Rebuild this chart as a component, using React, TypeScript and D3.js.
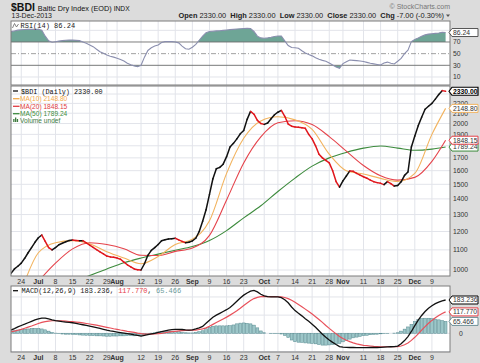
"use client"

import * as React from "react"
import * as d3 from "d3"

const W = 480
const H = 363

// trading days: index 0 = 19-Jun-2013 ... 127 = 13-Dec-2013
const closes = [
  984, 1005, 1018, 1033, 1057, 1085, 1112, 1140, 1165, 1180,
  1145, 1112, 1100, 1112, 1127, 1135, 1143, 1150, 1152, 1150,
  1149, 1149, 1137, 1125, 1113, 1101, 1090, 1079, 1068, 1064,
  1062, 1058, 1052, 1038, 1025, 1015, 1005, 1001, 1000, 1030,
  1072, 1097, 1112, 1128, 1148, 1154, 1158, 1160, 1162, 1153,
  1145, 1138, 1140, 1148, 1162, 1200, 1260, 1330, 1430, 1540,
  1615, 1625, 1650, 1710, 1790, 1821, 1860, 1905, 1935, 2040,
  2118, 2090, 2030, 2000, 1992, 2005, 2045, 2085, 2110, 2128,
  2070, 1995, 1975, 1968, 1965, 1960, 1955, 1900, 1860, 1800,
  1730, 1700, 1680, 1660, 1600, 1520, 1480, 1525, 1560, 1598,
  1595, 1580, 1567, 1555, 1544, 1530, 1519, 1512, 1507, 1498,
  1519, 1505, 1488, 1492, 1518, 1565, 1590, 1790, 1885, 1980,
  2060, 2140, 2170, 2200, 2245, 2295, 2337, 2330,
]

const rsi = [
  87.7, 89, 90.3, 91, 91.3, 91.6, 91.7, 91.7, 91.7, 90,
  80, 72, 69.5, 70.5, 71.5, 72.3, 73, 73.4, 73.2, 72.8,
  72.3, 70, 67.7, 65, 62, 57.5, 53.4, 50.5, 47.5, 45.5,
  44, 42, 40, 37.5, 33.5, 30.8, 29, 27.7, 30, 44,
  55.5, 60, 63, 65, 69, 70.6, 70.6, 70.6, 70, 68.5,
  63, 58.5, 57.5, 61, 66, 73, 80, 86, 88, 88.5,
  89, 89.4, 90, 90.6, 91.2, 91.7, 92.2, 92.7, 93.2, 93.4,
  93.2, 88, 80, 77, 76.5, 77, 78, 79.5, 80.3, 80.2,
  72, 64, 60.5, 60, 59.3, 55, 51, 48.5, 46.2, 43,
  40.3, 38.5, 37, 34, 30.6, 27, 25, 33, 36, 39,
  38.5, 38, 37.5, 36.5, 35, 33.4, 32.5, 31.5, 30.6, 34,
  35.5, 33.4, 32.3, 37, 42, 50, 56, 70.6, 74.5, 77,
  80, 82.2, 83.5, 84.2, 84.8, 85.5, 86.5, 86.24,
]

const macd = [
  18, 26, 35, 43, 50, 58, 66, 74, 80, 84,
  83, 79, 74, 70, 67, 64, 62, 60, 58, 55,
  51, 47, 43, 39, 35, 31, 27, 22, 17, 13,
  10, 7, 4, 1, -2, -5, -9, -12, -15, -12,
  -7, -3, 0, 5, 9, 13, 17, 20, 22, 22,
  21, 19, 18, 19, 24, 30, 38, 55, 72, 88,
  100, 110, 120, 130, 142, 158, 176, 194, 210, 222,
  232, 236, 228, 215, 206, 202, 200, 200, 200, 196,
  185, 168, 145, 125, 110, 96, 80, 66, 50, 33,
  14, -5, -22, -37, -50, -62, -73, -76, -77, -78,
  -78, -79, -79, -79, -79, -78, -78, -78, -77, -76,
  -75, -74, -73, -70, -58, -40, -18, 10, 42, 72,
  98, 120, 138, 152, 163, 172, 179, 183.236,
]

const signal = [
  9, 12, 17, 22, 28, 34, 40, 47, 54, 60,
  64, 67, 69, 69, 69, 68, 67, 65, 64, 62,
  60, 57, 54, 51, 48, 45, 41, 37, 33, 29,
  25, 22, 18, 15, 11, 8, 5, 1, -2, -4,
  -5, -4, -3, -2, 0, 3, 6, 9, 11, 13,
  15, 16, 16, 17, 18, 21, 24, 30, 39, 49,
  59, 69, 79, 89, 100, 112, 124, 138, 153, 167,
  180, 191, 198, 202, 203, 202, 202, 202, 201, 200,
  197, 191, 182, 171, 159, 146, 133, 120, 106, 91,
  76, 60, 43, 27, 12, -3, -17, -29, -38, -46,
  -53, -58, -62, -66, -68, -70, -72, -73, -74, -74,
  -74, -74, -74, -73, -70, -63, -53, -39, -22, -3,
  17, 37, 55, 71, 85, 98, 109, 117.77,
]

const histogram = [
  9, 14, 18, 21, 22, 24, 26, 27, 26, 24,
  19, 12, 5, 1, -2, -4, -5, -5, -6, -7,
  -9, -10, -11, -12, -13, -14, -14, -15, -16, -16,
  -15, -15, -14, -14, -13, -13, -14, -13, -13, -8,
  -2, 1, 3, 7, 9, 10, 11, 11, 11, 9,
  6, 3, 2, 2, 6, 9, 14, 25, 33, 39,
  41, 41, 41, 41, 42, 46, 52, 56, 57, 55,
  52, 45, 30, 13, 3, 0, -2, -2, -1, -4,
  -12, -23, -37, -46, -49, -50, -53, -54, -56, -58,
  -62, -65, -65, -64, -62, -59, -56, -47, -39, -32,
  -25, -21, -17, -13, -11, -8, -6, -5, -3, -2,
  -1, 0, 1, 3, 12, 23, 35, 49, 64, 75,
  81, 83, 83, 81, 78, 74, 70, 65.466,
]

// moving averages read at the Monday grid days
const maDays = [3, 8, 13, 18, 23, 28, 33, 38, 43, 48, 53, 58, 63, 68, 73, 78, 83, 88, 93, 98, 103, 108, 113, 118, 123, 127]
const ma10 = [905, 1085, 1138, 1149, 1132, 1090, 1058, 1030, 1066, 1128, 1157, 1262, 1580, 1865, 2025, 2065, 2035, 1945, 1730, 1600, 1575, 1543, 1520, 1580, 1900, 2148.8]
const ma20 = [null, 948, 1033, 1105, 1138, 1128, 1106, 1072, 1071, 1092, 1110, 1178, 1393, 1660, 1878, 2008, 2027, 1990, 1880, 1755, 1640, 1562, 1530, 1550, 1672, 1848.15]
const ma50 = [null, null, null, 945, 974, 1005, 1035, 1058, 1078, 1098, 1118, 1150, 1205, 1280, 1355, 1450, 1545, 1635, 1700, 1745, 1780, 1798, 1780, 1762, 1772, 1789.24]

const tickDays = [3, 8, 13, 18, 23, 28, 31, 38, 43, 48, 53, 58, 63, 68, 74, 78, 83, 88, 93, 97, 103, 108, 113, 118, 123]
const tickLabels = ["24", "Jul", "8", "15", "22", "29", "Aug", "12", "19", "26", "Sep", "9", "16", "23", "Oct", "7", "14", "21", "28", "Nov", "11", "18", "25", "Dec", "9"]
const monthLabels = ["Jul", "Aug", "Sep", "Oct", "Nov", "Dec"]

const priceTicks = [1000, 1100, 1200, 1300, 1400, 1500, 1600, 1700, 1800, 1900, 2000, 2100, 2200, 2300]
// 1800 and 2300 sit behind the last-value tags
const priceTickLabels = [1000, 1100, 1200, 1300, 1400, 1500, 1600, 1700, 1900, 2000, 2100, 2200]
const rsiTicks = [70, 50, 30, 10]

const sans = "'Liberation Sans', Arial, sans-serif"
const mono = "'Liberation Mono', 'DejaVu Sans Mono', monospace"

function render(svgEl: SVGSVGElement) {
  const svg = d3.select(svgEl)
  svg.selectAll("*").remove()

  const left = 11
  const right = 450
  const rsiBox = { top: 21, bottom: 85 }
  const priceBox = { top: 86, bottom: 276 }
  const macdBox = { top: 286, bottom: 352 }

  const x = d3.scaleLinear().domain([0, 127]).range([11, 445.6])
  const yRsi = d3.scaleLinear().domain([0, 100]).range([82.8, 24.5])
  const yPrice = d3.scaleLog().domain([1000, 2300]).range([270, 94])
  const yMacd = d3.scaleLinear().domain([0, 183.236]).range([333.3, 300])

  svg.append("rect").attr("width", W).attr("height", H).attr("fill", "#dcdcdc")

  const defs = svg.append("defs")
  const clip = (id: string, top: number, bottom: number) =>
    defs
      .append("clipPath")
      .attr("id", id)
      .append("rect")
      .attr("x", left)
      .attr("y", top)
      .attr("width", right - left)
      .attr("height", bottom - top)
  clip("rsiClip", rsiBox.top, rsiBox.bottom)
  clip("priceClip", priceBox.top, priceBox.bottom)
  clip("macdClip", macdBox.top, macdBox.bottom)
  clip("rsiHigh", rsiBox.top, yRsi(70))
  clip("rsiLow", yRsi(30), rsiBox.bottom)

  const boxes = [rsiBox, priceBox, macdBox]
  boxes.forEach((b) => {
    svg
      .append("rect")
      .attr("x", left)
      .attr("y", b.top)
      .attr("width", right - left)
      .attr("height", b.bottom - b.top)
      .attr("fill", "#ffffff")
    svg
      .append("g")
      .selectAll("line")
      .data(tickDays)
      .join("line")
      .attr("x1", (d) => x(d))
      .attr("x2", (d) => x(d))
      .attr("y1", b.top)
      .attr("y2", b.bottom)
      .attr("stroke", "#e2e4ea")
      .attr("stroke-width", 1)
  })

  // ---------- RSI panel ----------
  svg
    .append("g")
    .selectAll("line")
    .data([10, 90])
    .join("line")
    .attr("x1", left)
    .attr("x2", right)
    .attr("y1", (d) => yRsi(d))
    .attr("y2", (d) => yRsi(d))
    .attr("stroke", "#e2e4ea")

  const rsiIdx = d3.range(rsi.length)
  const rsiHighArea = d3
    .area<number>()
    .x((i) => x(i))
    .y0(yRsi(70))
    .y1((i) => yRsi(rsi[i]))
  const rsiLowArea = d3
    .area<number>()
    .x((i) => x(i))
    .y0(yRsi(30))
    .y1((i) => yRsi(rsi[i]))
  svg
    .append("path")
    .attr("d", rsiHighArea(rsiIdx))
    .attr("clip-path", "url(#rsiHigh)")
    .attr("fill", "#6ea596")
  svg
    .append("path")
    .attr("d", rsiLowArea(rsiIdx))
    .attr("clip-path", "url(#rsiLow)")
    .attr("fill", "#6ea596")

  svg
    .append("g")
    .selectAll("line")
    .data([70, 30])
    .join("line")
    .attr("x1", left)
    .attr("x2", right)
    .attr("y1", (d) => yRsi(d))
    .attr("y2", (d) => yRsi(d))
    .attr("stroke", "#6f6f6f")
    .attr("stroke-width", 0.9)
  svg
    .append("line")
    .attr("x1", left)
    .attr("x2", right)
    .attr("y1", yRsi(50))
    .attr("y2", yRsi(50))
    .attr("stroke", "#8a8a8a")
    .attr("stroke-width", 0.8)
    .attr("stroke-dasharray", "5,2,1,2")

  const rsiLine = d3
    .line<number>()
    .x((i) => x(i))
    .y((i) => yRsi(rsi[i]))
  svg
    .append("path")
    .attr("d", rsiLine(rsiIdx))
    .attr("clip-path", "url(#rsiClip)")
    .attr("fill", "none")
    .attr("stroke", "#8a8eae")
    .attr("stroke-width", 1.1)

  svg
    .append("g")
    .selectAll("text")
    .data(rsiTicks)
    .join("text")
    .attr("x", 453)
    .attr("y", (d) => yRsi(d))
    .attr("dy", "0.35em")
    .attr("font-family", sans)
    .attr("font-size", 6.8)
    .attr("fill", "#333")
    .text((d) => d)

  // ---------- price panel ----------
  svg
    .append("g")
    .selectAll("line")
    .data(priceTicks)
    .join("line")
    .attr("x1", left)
    .attr("x2", right)
    .attr("y1", (d) => yPrice(d))
    .attr("y2", (d) => yPrice(d))
    .attr("stroke", "#e2e4ea")

  const maLine = (vals: (number | null)[]) =>
    d3
      .line<number>()
      .defined((k) => vals[k] != null)
      .x((k) => x(maDays[k]))
      .y((k) => yPrice(vals[k] as number))
      .curve(d3.curveMonotoneX)(d3.range(maDays.length))

  const priceG = svg.append("g").attr("clip-path", "url(#priceClip)")
  ;[
    { vals: ma50, color: "#3d8b3d" },
    { vals: ma20, color: "#e5434b" },
    { vals: ma10, color: "#f2b35e" },
  ].forEach((m) => {
    priceG
      .append("path")
      .attr("d", maLine(m.vals))
      .attr("fill", "none")
      .attr("stroke", m.color)
      .attr("stroke-width", 1.1)
  })

  priceG
    .append("g")
    .selectAll("line")
    .data(d3.range(1, closes.length))
    .join("line")
    .attr("x1", (i) => x(i - 1))
    .attr("y1", (i) => yPrice(closes[i - 1]))
    .attr("x2", (i) => x(i))
    .attr("y2", (i) => yPrice(closes[i]))
    .attr("stroke", (i) => (closes[i] >= closes[i - 1] ? "#111" : "#e0161c"))
    .attr("stroke-width", 1.5)
    .attr("stroke-linecap", "round")

  svg
    .append("g")
    .selectAll("text")
    .data(priceTickLabels)
    .join("text")
    .attr("x", 453)
    .attr("y", (d) => yPrice(d))
    .attr("dy", "0.35em")
    .attr("font-family", sans)
    .attr("font-size", 6.8)
    .attr("fill", "#333")
    .text((d) => d)

  // ---------- MACD panel ----------
  svg
    .append("g")
    .selectAll("line")
    .data([-100, 0, 100, 200])
    .join("line")
    .attr("x1", left)
    .attr("x2", right)
    .attr("y1", (d) => yMacd(d))
    .attr("y2", (d) => yMacd(d))
    .attr("stroke", "#e2e4ea")

  const macdG = svg.append("g").attr("clip-path", "url(#macdClip)")
  macdG
    .append("g")
    .selectAll("rect")
    .data(d3.range(histogram.length))
    .join("rect")
    .attr("x", (i) => x(i) - 1.4)
    .attr("width", 2.8)
    .attr("y", (i) => yMacd(Math.max(0, histogram[i])))
    .attr("height", (i) => Math.abs(yMacd(histogram[i]) - yMacd(0)))
    .attr("fill", "#9cc6c8")
    .attr("stroke", "#55898f")
    .attr("stroke-width", 0.5)

  const macdLine = (vals: number[]) =>
    d3
      .line<number>()
      .x((i) => x(i))
      .y((i) => yMacd(vals[i]))(d3.range(vals.length))
  macdG
    .append("path")
    .attr("d", macdLine(signal))
    .attr("fill", "none")
    .attr("stroke", "#e8505a")
    .attr("stroke-width", 1.2)
  macdG
    .append("path")
    .attr("d", macdLine(macd))
    .attr("fill", "none")
    .attr("stroke", "#111")
    .attr("stroke-width", 1.3)

  svg
    .append("text")
    .attr("x", 459)
    .attr("y", yMacd(0))
    .attr("dy", "0.35em")
    .attr("font-family", sans)
    .attr("font-size", 6.8)
    .attr("fill", "#333")
    .text("0")

  // panel borders
  boxes.forEach((b) => {
    svg
      .append("rect")
      .attr("x", left)
      .attr("y", b.top)
      .attr("width", right - left)
      .attr("height", b.bottom - b.top)
      .attr("fill", "none")
      .attr("stroke", "#7c7c7c")
      .attr("stroke-width", 1)
  })

  // x axis labels
  ;[priceBox.bottom + 8, macdBox.bottom + 8].forEach((yy) => {
    svg
      .append("g")
      .selectAll("text")
      .data(tickDays)
      .join("text")
      .attr("x", (d) => x(d))
      .attr("y", yy)
      .attr("text-anchor", "middle")
      .attr("font-family", sans)
      .attr("font-size", 7)
      .attr("font-weight", (_d, i) => (monthLabels.includes(tickLabels[i]) ? "bold" : "normal"))
      .attr("fill", "#333")
      .text((_d, i) => tickLabels[i])
  })

  // value tags on the right
  const tag = (yc: number, label: string, color: string, bold: boolean) => {
    const g = svg.append("g")
    g.append("path")
      .attr("d", `M449,${yc} L452,${yc - 4} L478,${yc - 4} L478,${yc + 4} L452,${yc + 4} Z`)
      .attr("fill", "#fff")
      .attr("stroke", color)
      .attr("stroke-width", bold ? 1.2 : 1)
    g.append("text")
      .attr("x", 453)
      .attr("y", yc)
      .attr("dy", "0.35em")
      .attr("font-family", sans)
      .attr("font-size", 6.8)
      .attr("font-weight", bold ? "bold" : "normal")
      .attr("fill", bold ? "#000" : "#333")
      .text(label)
  }
  tag(yRsi(86.24), "86.24", "#555", false)
  tag(yPrice(1789.24), "1789.24", "#3d8b3d", false)
  tag(yPrice(1848.15), "1848.15", "#e5434b", false)
  tag(yPrice(2148.8), "2148.80", "#f2b35e", false)
  tag(yPrice(2330), "2330.00", "#000", true)
  tag(yMacd(65.466), "65.466", "#6b8f95", false)
  tag(yMacd(117.77), "117.770", "#e5434b", false)
  tag(yMacd(183.236), "183.236", "#000", false)

  // legends
  const legendLine = (x1: number, x2: number, yy: number, color: string) =>
    svg
      .append("line")
      .attr("x1", x1)
      .attr("x2", x2)
      .attr("y1", yy)
      .attr("y2", yy)
      .attr("stroke", color)
      .attr("stroke-width", 1.3)

  svg
    .append("path")
    .attr("d", "M12.5,28 L14.5,23.5 L16.5,27 L18.5,24")
    .attr("fill", "none")
    .attr("stroke", "#666")
    .attr("stroke-width", 0.8)
  svg
    .append("text")
    .attr("x", 20.5)
    .attr("y", 27.5)
    .attr("font-family", mono)
    .attr("font-size", 7)
    .attr("fill", "#222")
    .text("RSI(14) 86.24")

  legendLine(13, 18, 91, "#111")
  svg
    .append("text")
    .attr("x", 21)
    .attr("y", 93.5)
    .attr("font-family", mono)
    .attr("font-size", 6.8)
    .attr("fill", "#111")
    .text("$BDI (Daily) 2330.00")

  const maLegend = [
    { label: "MA(10) 2148.80", color: "#f2a94a", y: 98.7 },
    { label: "MA(20) 1848.15", color: "#e03a42", y: 106.3 },
    { label: "MA(50) 1789.24", color: "#3d8b3d", y: 113.7 },
  ]
  maLegend.forEach((m) => {
    legendLine(13, 19.5, m.y, m.color)
    svg
      .append("text")
      .attr("x", 20)
      .attr("y", m.y + 2.4)
      .attr("font-family", sans)
      .attr("font-size", 6.6)
      .attr("fill", m.color)
      .text(m.label)
  })
  ;[0, 1, 2].forEach((k) => {
    svg
      .append("rect")
      .attr("x", 13.2 + k * 1.8)
      .attr("y", 118.5 + (k === 1 ? -1 : 0.5))
      .attr("width", 1.3)
      .attr("height", k === 1 ? 4.5 : 3)
      .attr("fill", "#3d7b3d")
  })
  svg
    .append("text")
    .attr("x", 20)
    .attr("y", 123)
    .attr("font-family", sans)
    .attr("font-size", 6.6)
    .attr("fill", "#3d7b3d")
    .text("Volume undef")

  legendLine(13, 18, 290.7, "#111")
  const macdText = svg
    .append("text")
    .attr("x", 21.5)
    .attr("y", 293.2)
    .attr("font-family", mono)
    .attr("font-size", 7)
  macdText.append("tspan").attr("fill", "#222").text("MACD(12,26,9) 183.236, ")
  macdText.append("tspan").attr("fill", "#e5434b").text("117.770")
  macdText.append("tspan").attr("fill", "#222").text(", ")
  macdText.append("tspan").attr("fill", "#6b9a9a").text("65.466")

  // header
  const title = svg.append("text").attr("x", 11).attr("y", 11).attr("font-family", sans).attr("fill", "#111")
  title.append("tspan").attr("font-size", 10.5).attr("font-weight", "bold").text("$BDI ")
  title.append("tspan").attr("font-size", 7.3).text("Baltic Dry Index (EOD) ")
  title.append("tspan").attr("font-size", 6.7).text("INDX")

  svg
    .append("text")
    .attr("x", 11.5)
    .attr("y", 18.3)
    .attr("font-family", sans)
    .attr("font-size", 7)
    .attr("fill", "#222")
    .text("13-Dec-2013")

  svg
    .append("text")
    .attr("x", 450)
    .attr("y", 9.3)
    .attr("text-anchor", "end")
    .attr("font-family", sans)
    .attr("font-size", 7)
    .attr("fill", "#777")
    .text("\u00a9 StockCharts.com")

  const quote = svg
    .append("text")
    .attr("x", 444)
    .attr("y", 18.3)
    .attr("text-anchor", "end")
    .attr("font-family", sans)
    .attr("font-size", 7.4)
    .attr("fill", "#222")
  const parts: [string, boolean][] = [
    ["Open ", true],
    ["2330.00  ", false],
    ["High ", true],
    ["2330.00  ", false],
    ["Low ", true],
    ["2330.00  ", false],
    ["Close ", true],
    ["2330.00  ", false],
    ["Chg ", true],
    ["-7.00 (-0.30%)", false],
  ]
  parts.forEach(([t, b]) => {
    quote
      .append("tspan")
      .attr("font-weight", b ? "bold" : "normal")
      .attr("xml:space", "preserve")
      .text(t)
  })
  svg.append("path").attr("d", "M446,14.5 L450,14.5 L448,17 Z").attr("fill", "#555")
}

export default function App() {
  const svgRef = React.useRef<SVGSVGElement>(null)

  React.useEffect(() => {
    if (svgRef.current) render(svgRef.current)
  }, [])

  return (
    <svg
      ref={svgRef}
      width={W}
      height={H}
      style={{ position: "absolute", left: 0, top: 0, display: "block" }}
    />
  )
}
